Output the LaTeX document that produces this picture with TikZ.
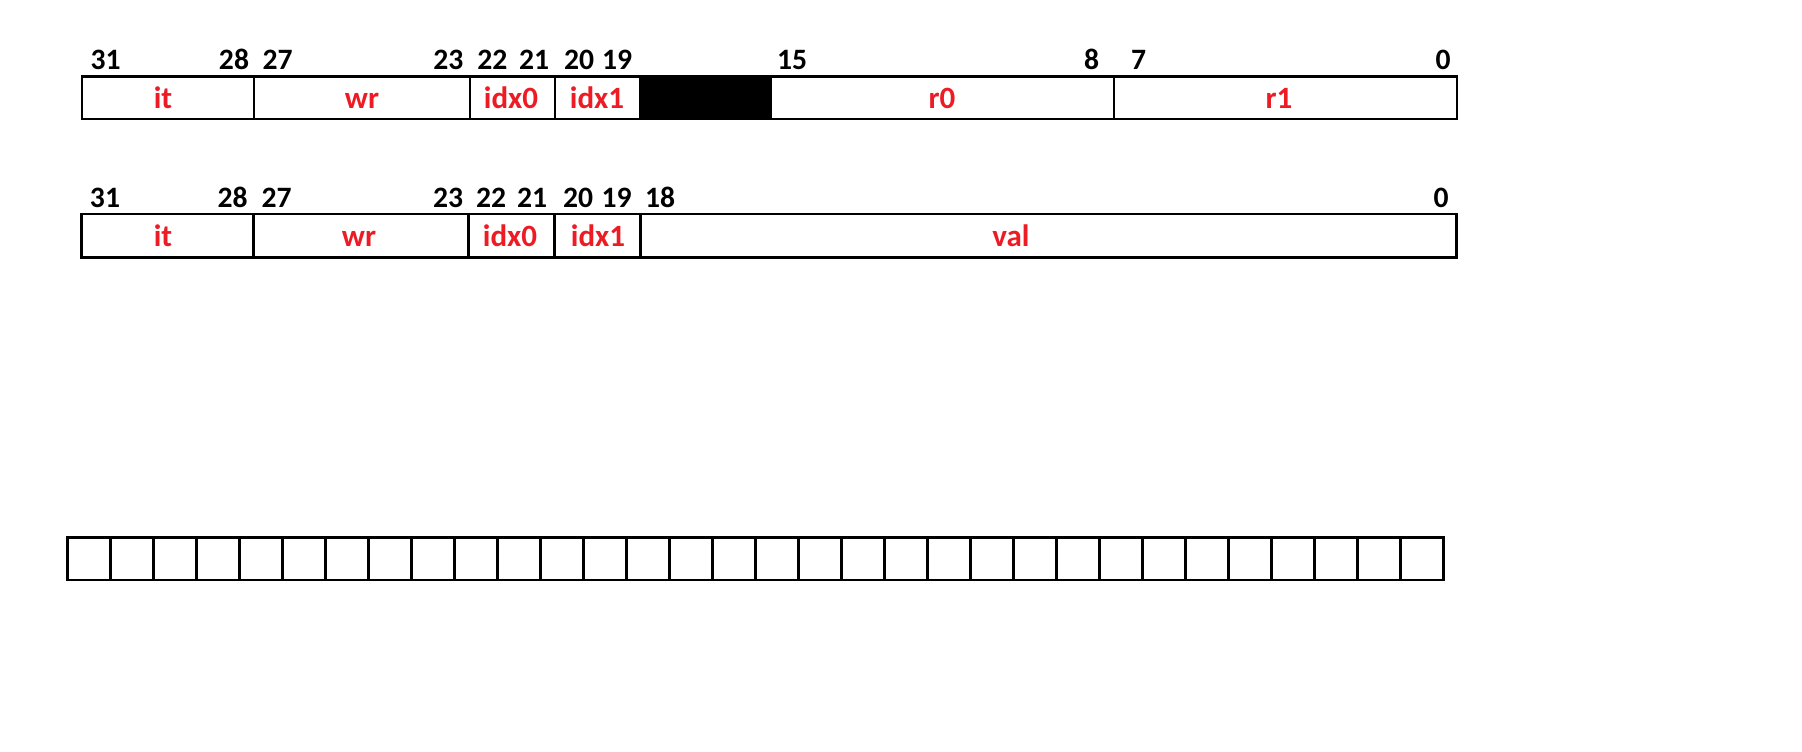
\documentclass[tikz,border=0pt]{standalone}
\usepackage{fontspec}
\setmainfont{Carlito}
\definecolor{fieldred}{RGB}{237,28,36}
\begin{document}
\begin{tikzpicture}[x=1pt,y=-1pt,
  boxline/.style={line width=2.7pt, line join=miter},
  bitnum/.style={anchor=base, inner sep=0pt, font=\fontsize{29.6}{35}\selectfont\bfseries, text=black},
  fieldname/.style={anchor=base, inner sep=0pt, font=\fontsize{31}{37}\selectfont\bfseries, text=fieldred}]
\useasboundingbox (0,0) rectangle (1802,752);

% ---------- Row 1 ----------
\fill[black] (640,76.3) rectangle (771,119);
\draw[boxline] (82,76.3) rectangle (1457,119);
\foreach \xx in {254,470,555,640,771,1114}
  \draw[boxline] (\xx,76.3) -- (\xx,119);

\node[bitnum] (a31) at (105.7,70) {31};
\node[bitnum] (a28) at (234,70) {28};
\node[bitnum] (a27) at (277.7,70) {27};
\node[bitnum] (a23) at (448.3,70) {23};
\node[bitnum] (a22) at (492.3,70) {22};
\node[bitnum] (a21) at (534,70) {21};
\node[bitnum] (a20) at (579,70) {20};
\node[bitnum] (a19) at (617,70) {19};
\node[bitnum] (a15) at (792,70) {15};
\node[bitnum] (a8) at (1091.5,70) {8};
\node[bitnum] (a7) at (1138.5,70) {7};
\node[bitnum] (a0) at (1443,70) {0};

\node[fieldname] (fit1) at (163,108.3) {it};
\node[fieldname] (fwr1) at (362,108.3) {wr};
\node[fieldname] (fidxa1) at (511,108.3) {idx0};
\node[fieldname] (fidxb1) at (597,108.3) {idx1};
\node[fieldname] (fr0) at (942,108.3) {r0};
\node[fieldname] (fr1) at (1279,108.3) {r1};

% ---------- Row 2 ----------
\draw[boxline] (81.5,214) rectangle (1456.5,257.3);
\foreach \xx in {253.3,468.8,554.7,640.7}
  \draw[boxline] (\xx,214) -- (\xx,257.3);

\node[bitnum] (b31) at (105,207) {31};
\node[bitnum] (b28) at (232.7,207) {28};
\node[bitnum] (b27) at (276.7,207) {27};
\node[bitnum] (b23) at (448,207) {23};
\node[bitnum] (b22) at (491,207) {22};
\node[bitnum] (b21) at (532,207) {21};
\node[bitnum] (b20) at (578,207) {20};
\node[bitnum] (b19) at (616.7,207) {19};
\node[bitnum] (b18) at (660,207) {18};
\node[bitnum] (b0) at (1441,207) {0};

\node[fieldname] (fit2) at (163,246) {it};
\node[fieldname] (fwr2) at (359,246) {wr};
\node[fieldname] (fidxa2) at (510,246) {idx0};
\node[fieldname] (fidxb2) at (598,246) {idx1};
\node[fieldname] (fval) at (1011,246) {val};

% ---------- Row 3: 32 empty cells ----------
\draw[boxline] (67.7,537.7) rectangle (1443.7,580);
\foreach \i in {1,...,31}
  \draw[boxline] ({67.7+43*\i},537.7) -- ({67.7+43*\i},580);
\end{tikzpicture}
\end{document}
